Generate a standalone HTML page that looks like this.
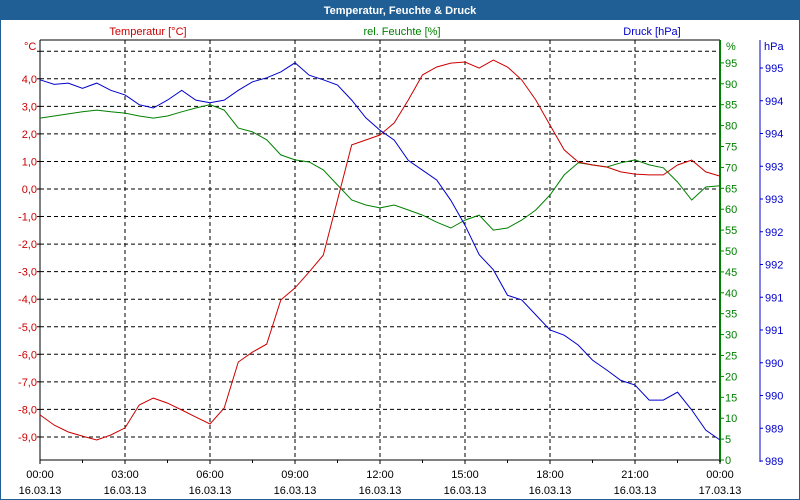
<!DOCTYPE html>
<html><head><meta charset="utf-8"><style>
body{margin:0;background:#fff;}
svg{display:block;font-family:"Liberation Sans",sans-serif;font-size:11px;}
</style></head><body>
<svg id="chart" width="800" height="500" viewBox="0 0 800 500">
<rect x="0" y="0" width="800" height="500" fill="#fff" stroke="#1f5f95" stroke-width="2"/>
<rect x="0" y="0" width="800" height="20" fill="#1f5f95"/>
<text x="400" y="14" text-anchor="middle" fill="#fff" font-weight="bold">Temperatur, Feuchte &amp; Druck</text>
<text x="148" y="35" text-anchor="middle" fill="#cc0000">Temperatur [°C]</text>
<text x="402" y="35" text-anchor="middle" fill="#008000">rel. Feuchte [%]</text>
<text x="652" y="35" text-anchor="middle" fill="#0000cc">Druck [hPa]</text>
<text x="24" y="50" fill="#cc0000">°C</text>
<text x="726" y="50" fill="#008000">%</text>
<text x="764" y="50" fill="#0000cc">hPa</text>
<g id="grid"></g><g id="axes"></g><g id="series"></g>
</svg>
<script>
const hours=[0,3,6,9,12,15,18,21,24];
const xTickTimes=["00:00","03:00","06:00","09:00","12:00","15:00","18:00","21:00","00:00"];
const xTickDates=["16.03.13","16.03.13","16.03.13","16.03.13","16.03.13","16.03.13","16.03.13","16.03.13","17.03.13"];
const tempTicks=[5,4,3,2,1,0,-1,-2,-3,-4,-5,-6,-7,-8,-9];
const humTicks=[0,5,10,15,20,25,30,35,40,45,50,55,60,65,70,75,80,85,90,95];
const presTicks=[988.5,989,989.5,990,990.5,991,991.5,992,992.5,993,993.5,994,994.5];
const presLabels=["989","989","990","990","991","991","992","992","993","993","994","994","995"];
const temperature=[-8.2,-8.57,-8.82,-8.97,-9.11,-8.93,-8.67,-7.84,-7.59,-7.77,-8.02,-8.28,-8.53,-7.95,-6.28,-5.92,-5.63,-4.03,-3.59,-3.01,-2.4,-0.4,1.6,1.78,1.96,2.4,3.23,4.14,4.43,4.57,4.61,4.39,4.68,4.43,3.96,3.23,2.32,1.42,0.98,0.87,0.8,0.62,0.54,0.51,0.51,0.87,1.05,0.62,0.47];
const humidity=[81.8,82.3,82.8,83.3,83.7,83.3,83.0,82.3,81.8,82.3,83.3,84.2,85.0,83.7,79.4,78.5,76.6,73.0,71.8,71.3,69.4,65.8,62.2,61.0,60.3,61.0,59.8,58.6,56.9,55.5,57.4,58.6,55.0,55.5,57.4,59.8,63.4,68.2,71.1,70.6,70.1,71.1,71.8,70.6,69.9,66.5,62.2,65.3,65.6];
const pressure=[994.32,994.25,994.27,994.19,994.27,994.16,994.09,993.94,993.89,994.01,994.16,994.01,993.97,994.01,994.16,994.29,994.35,994.44,994.58,994.39,994.32,994.24,994.01,993.74,993.55,993.40,993.09,992.94,992.79,992.48,992.10,991.65,991.42,991.03,990.96,990.73,990.50,990.42,990.27,990.04,989.89,989.73,989.66,989.43,989.43,989.55,989.28,988.97,988.82];

const L=40,R=720,T=40,B=460;
const xS=h=>L+(R-L)*h/24;
const yT=v=>189-v*27.55;
const yH=v=>460-v*4.18;
const yP=v=>461-(v-988.5)*65.5;
const NS="http://www.w3.org/2000/svg";
function mk(tag,attrs,parent,txt){const e=document.createElementNS(NS,tag);for(const k in attrs)e.setAttribute(k,attrs[k]);if(txt!==undefined)e.textContent=txt;document.getElementById(parent).appendChild(e);return e;}
// grid
hours.forEach((h,i)=>{if(i>0&&i<hours.length-1){const g=mk('line',{x1:xS(h),x2:xS(h),y1:T,y2:B,stroke:'#000','stroke-dasharray':'4,3'},'grid');

}});
tempTicks.forEach(v=>{const g=mk('line',{x1:L,x2:R,y1:yT(v),y2:yT(v),stroke:'#000','stroke-dasharray':'4,3'},'grid');

});
// axes lines
let a;
a=mk('line',{x1:L,x2:R,y1:T,y2:T,stroke:'#000'},'axes');


a=mk('line',{x1:L,x2:L,y1:T,y2:B,stroke:'#000'},'axes');


a=mk('line',{x1:L,x2:R,y1:B,y2:B,stroke:'#000'},'axes');


a=mk('line',{x1:R,x2:R,y1:T,y2:B+2,stroke:'#008000','stroke-width':2},'axes');


a=mk('line',{x1:760,x2:760,y1:T,y2:B+2,stroke:'#0000cc'},'axes');


tempTicks.forEach(v=>{if(v<5){const t=mk('text',{x:L-3,y:yT(v)+4,'text-anchor':'end',fill:'#cc0000'},'axes',(v.toFixed(1)).replace('.',','));

}
const k=mk('line',{x1:L-3,x2:L,y1:yT(v),y2:yT(v),stroke:'#000'},'axes');

});
humTicks.forEach(v=>{const k=mk('line',{x1:R,x2:R+4,y1:yH(v),y2:yH(v),stroke:'#008000'},'axes');


const t=mk('text',{x:R+5,y:yH(v)+4,fill:'#008000'},'axes',String(v));

});
presTicks.forEach((v,i)=>{const k=mk('line',{x1:760,x2:763,y1:yP(v),y2:yP(v),stroke:'#0000cc'},'axes');


const t=mk('text',{x:765,y:yP(v)+4,fill:'#0000cc'},'axes',presLabels[i]);

});
hours.forEach((h,i)=>{const k=mk('line',{x1:xS(h),x2:xS(h),y1:B,y2:B+4,stroke:'#000'},'axes');


const t1=mk('text',{x:xS(h),y:B+18,'text-anchor':'middle',fill:'#000'},'axes',xTickTimes[i]);


const t2=mk('text',{x:xS(h),y:B+34,'text-anchor':'middle',fill:'#000'},'axes',xTickDates[i]);

});
for(let h=1.5;h<24;h+=3){const k=mk('line',{x1:xS(h),x2:xS(h),y1:B,y2:B+3,stroke:'#000'},'axes');

}
// series
function line(arr,yf,color,name){const n=arr.length;const pts=arr.map((v,i)=>xS(24*i/(n-1)).toFixed(1)+','+yf(v).toFixed(1)).join(' ');
const p=mk('polyline',{points:pts,fill:'none',stroke:color,'stroke-width':1},'series');

}
line(humidity,yH,'#008000','humidity-line');
line(temperature,yT,'#cc0000','temperature-line');
line(pressure,yP,'#0000cc','pressure-line');
</script>
</body></html>
